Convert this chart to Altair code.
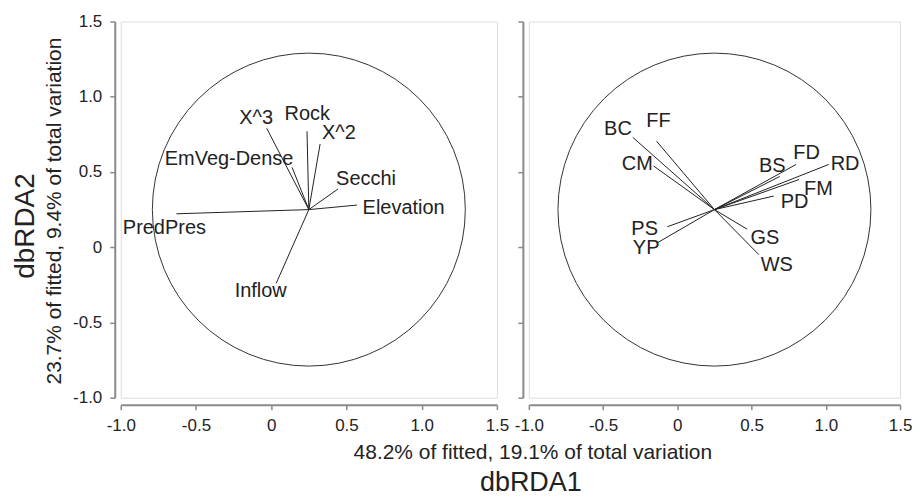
import altair as alt
import pandas as pd

FONT = "Liberation Sans"

# vector origin (centre of the correlation circle)
origin_x = 0.25
origin_y = 0.25
circle_radius = 1.04

# ---- left panel: environmental variables ----
left_names = ["X^3", "Rock", "X^2", "EmVeg-Dense", "Secchi", "Elevation", "PredPres", "Inflow"]
left_x_end = [-0.03, 0.238, 0.325, 0.139, 0.444, 0.57, -0.63, 0.033]
left_y_end = [0.79, 0.77, 0.686, 0.53, 0.387, 0.28, 0.222, -0.24]
left_lab_x = [-0.10, 0.24, 0.45, -0.28, 0.63, 0.88, -0.71, -0.07]
left_lab_y = [0.857, 0.884, 0.76, 0.586, 0.454, 0.26, 0.13, -0.29]

# ---- right panel: species ----
right_names = ["BC", "FF", "CM", "PS", "YP", "BS", "FD", "RD", "FM", "PD", "GS", "WS"]
right_x_end = [-0.30, -0.14, -0.16, -0.067, -0.133, 0.69, 0.80, 1.02, 0.82, 0.65, 0.47, 0.55]
right_y_end = [0.73, 0.705, 0.54, 0.136, 0.03, 0.47, 0.55, 0.55, 0.45, 0.34, 0.12, -0.05]
right_lab_x = [-0.40, -0.127, -0.27, -0.22, -0.21, 0.64, 0.87, 1.13, 0.95, 0.79, 0.59, 0.67]
right_lab_y = [0.785, 0.838, 0.553, 0.122, -0.005, 0.54, 0.626, 0.553, 0.387, 0.30, 0.063, -0.12]

tick_values = [-1.0, -0.5, 0.0, 0.5, 1.0, 1.5]
domain = [-1.0, 1.5]

x_title = "48.2% of fitted, 19.1% of total variation"
y_title = "23.7% of fitted, 9.4% of total variation"
x_big = "dbRDA1"
y_big = "dbRDA2"

label_expr = ("datum.value == 0 ? '0' : (datum.value < 0 ? '-' + format(-datum.value, '.1f') "
              ": format(datum.value, '.1f'))")


def make_axis(offset, labels=True):
    kw = dict(values=tick_values, labelExpr=label_expr, title=None, grid=False,
              domainColor="#8a8a8a", domainWidth=2, tickColor="#8a8a8a", tickWidth=1.5,
              tickSize=5, labelPadding=8, labelFont=FONT, labelFontSize=17,
              labelColor="#222222", offset=offset, labels=labels, labelFlush=False,
              labelOverlap=False)
    return alt.Axis(**kw)


def panel(names, xe, ye, lx, ly, w, h, show_y_labels):
    xs = alt.Scale(domain=domain, nice=False, zero=False)
    ys = alt.Scale(domain=domain, nice=False, zero=False)
    vec = pd.DataFrame({"name": names, "x0": [origin_x] * len(names), "y0": [origin_y] * len(names),
                        "x": xe, "y": ye})
    lab = pd.DataFrame({"name": names, "lx": lx, "ly": ly})
    ctr = pd.DataFrame({"cx": [origin_x], "cy": [origin_y]})
    d_px = 2 * circle_radius * h / 2.5
    circle = alt.Chart(ctr).mark_point(shape="circle", filled=False, color="#333333",
                                       strokeWidth=1, opacity=1, size=d_px * d_px).encode(
        x=alt.X("cx:Q", scale=xs, axis=make_axis(7)),
        y=alt.Y("cy:Q", scale=ys, axis=make_axis(6, show_y_labels)),
    )
    lines = alt.Chart(vec).mark_rule(color="#222222", strokeWidth=1).encode(
        x="x0:Q", y="y0:Q", x2="x:Q", y2="y:Q")
    labels = alt.Chart(lab).mark_text(font=FONT, fontSize=20, color="#222222").encode(
        x="lx:Q", y="ly:Q", text="name:N")
    return alt.layer(circle, lines, labels).properties(width=w, height=h)


one = pd.DataFrame({"k": [0]})

left = panel(left_names, left_x_end, left_y_end, left_lab_x, left_lab_y, 377, 377, True)
ytitle_small = alt.Chart(one).mark_text(text=y_title, font=FONT, fontSize=21, angle=270,
                                        color="#222222").encode(x=alt.value(-66), y=alt.value(190))
ytitle_big = alt.Chart(one).mark_text(text=y_big, font=FONT, fontSize=28, angle=270,
                                      color="#222222").encode(x=alt.value(-95), y=alt.value(205))
left = alt.layer(left, ytitle_small, ytitle_big)

right = panel(right_names, right_x_end, right_y_end, right_lab_x, right_lab_y, 372, 377, False)
xtitle_small = alt.Chart(one).mark_text(text=x_title, font=FONT, fontSize=21,
                                        color="#222222").encode(x=alt.value(4), y=alt.value(432))
xtitle_big = alt.Chart(one).mark_text(text=x_big, font=FONT, fontSize=27,
                                      color="#222222").encode(x=alt.value(2), y=alt.value(463))
right = alt.layer(right, xtitle_small, xtitle_big)

chart = alt.hconcat(left, right, spacing=32, bounds="flush").properties(
    padding={"left": 3, "right": 0, "top": 3, "bottom": 0}
).configure_view(stroke=None).configure(background="white")

chart.save("out.html", embed_options={"renderer": "svg", "actions": False})
